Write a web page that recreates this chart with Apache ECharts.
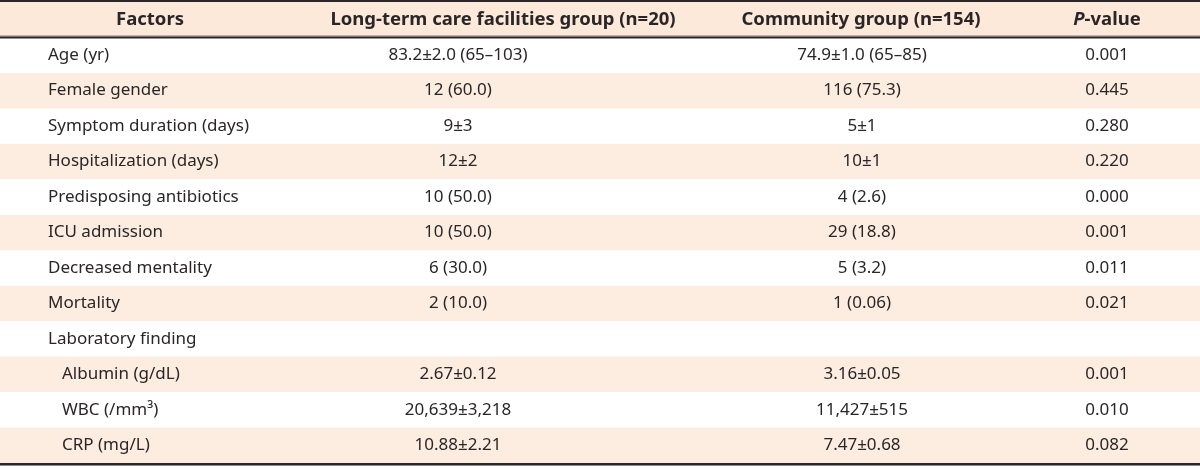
<!DOCTYPE html>
<html>
<head>
<meta charset="utf-8">
<script src="https://cdn.jsdelivr.net/npm/echarts@6/dist/echarts.min.js"></script>
<style>
  html, body { margin: 0; padding: 0; background: #ffffff; }
  #chart { width: 1200px; height: 468px; }
</style>
</head>
<body>
<div id="chart"></div>
<script>
// ---- table content ----
const headers = ['Factors', 'Long-term care facilities group (n=20)', 'Community group (n=154)', 'P-value'];
const factors = [
  'Age (yr)', 'Female gender', 'Symptom duration (days)', 'Hospitalization (days)',
  'Predisposing antibiotics', 'ICU admission', 'Decreased mentality', 'Mortality',
  'Laboratory finding', 'Albumin (g/dL)', 'WBC (/mm³)', 'CRP (mg/L)'
];
const factorLevels = [0, 0, 0, 0, 0, 0, 0, 0, 0, 1, 1, 1];
const longTermCare = [
  '83.2±2.0 (65–103)', '12 (60.0)', '9±3', '12±2', '10 (50.0)', '10 (50.0)',
  '6 (30.0)', '2 (10.0)', '', '2.67±0.12', '20,639±3,218', '10.88±2.21'
];
const community = [
  '74.9±1.0 (65–85)', '116 (75.3)', '5±1', '10±1', '4 (2.6)', '29 (18.8)',
  '5 (3.2)', '1 (0.06)', '', '3.16±0.05', '11,427±515', '7.47±0.68'
];
const pValues = [
  '0.001', '0.445', '0.280', '0.220', '0.000', '0.001',
  '0.011', '0.021', '', '0.001', '0.010', '0.082'
];

// ---- layout / style (not data) ----
const FONT = '"Noto Sans", sans-serif';
const TEXT_COLOR = '#2a2627';
const HEADER_BG = '#fde9da';
const STRIPE_BG = '#fdede1';
const LINE_COLOR = '#2b2627';
const HEADER_SIZE = 18.5;
const BODY_SIZE = 17;
const headerX = [150, 503, 861, 1107];
const cellX = [48, 458, 862, 1107];
const indentX = 14;

const rowCount = factors.length + 1;
const rowIds = Array.from({ length: rowCount }, (_, i) => i);

const chart = echarts.init(document.getElementById('chart'), null, { renderer: 'canvas' });

function renderItem(params, api) {
  const row = api.value(0);
  const center = api.coord([0, row]);
  const bandH = api.size([0, 1])[1];
  const left = api.coord([0, row])[0];
  const right = api.coord([1200, row])[0];
  const top = center[1] - bandH / 2;
  const bottom = center[1] + bandH / 2;
  const cy = center[1];
  const children = [];

  if (row === 0) {
    children.push({ type: 'rect', shape: { x: left, y: top, width: right - left, height: bandH }, style: { fill: HEADER_BG } });
    headers.forEach((h, c) => {
      const isP = c === 3;
      children.push({
        type: 'text',
        style: {
          text: isP ? '{i|P}-value' : h,
          rich: isP ? { i: { fontStyle: 'italic', fontWeight: 'bold', fontSize: HEADER_SIZE, fontFamily: FONT, fill: TEXT_COLOR } } : undefined,
          x: api.coord([headerX[c], row])[0], y: cy,
          textAlign: 'center', textVerticalAlign: 'middle',
          fontFamily: FONT, fontSize: HEADER_SIZE, fontWeight: 'bold', fill: TEXT_COLOR
        }
      });
    });
    children.push({ type: 'line', shape: { x1: left, y1: top - 1, x2: right, y2: top - 1 }, style: { stroke: LINE_COLOR, lineWidth: 2 } });
    children.push({ type: 'line', shape: { x1: left, y1: bottom - 1.5, x2: right, y2: bottom - 1.5 }, style: { stroke: '#8d8788', lineWidth: 1 } });
    children.push({ type: 'line', shape: { x1: left, y1: bottom, x2: right, y2: bottom }, style: { stroke: LINE_COLOR, lineWidth: 2 } });
    return { type: 'group', children };
  }

  const i = row - 1;
  if (i % 2 === 1) {
    children.push({ type: 'rect', shape: { x: left, y: top, width: right - left, height: bandH }, style: { fill: STRIPE_BG } });
  }
  const cells = [factors[i], longTermCare[i], community[i], pValues[i]];
  cells.forEach((t, c) => {
    if (!t) return;
    const x = c === 0 ? cellX[0] + factorLevels[i] * indentX : cellX[c];
    children.push({
      type: 'text',
      style: {
        text: t,
        x: api.coord([x, row])[0], y: cy,
        textAlign: c === 0 ? 'left' : 'center', textVerticalAlign: 'middle',
        fontFamily: FONT, fontSize: BODY_SIZE, fill: TEXT_COLOR
      }
    });
  });
  if (row === rowCount - 1) {
    children.push({ type: 'line', shape: { x1: left, y1: bottom + 1, x2: right, y2: bottom + 1 }, style: { stroke: LINE_COLOR, lineWidth: 2 } });
    children.push({ type: 'line', shape: { x1: left, y1: bottom + 2.5, x2: right, y2: bottom + 2.5 }, style: { stroke: '#8d8788', lineWidth: 1 } });
  }
  return { type: 'group', children };
}

chart.setOption({
  animation: false,
  backgroundColor: '#ffffff',
  grid: { left: 0, right: 0, top: 2, bottom: 5, containLabel: false },
  xAxis: { type: 'value', min: 0, max: 1200, show: false },
  yAxis: { type: 'category', data: rowIds, inverse: true, show: false },
  series: [{
    type: 'custom',
    renderItem: renderItem,
    clip: false,
    data: rowIds.map(r => [r]),
    encode: { y: 0 }
  }]
});
</script>
</body>
</html>
